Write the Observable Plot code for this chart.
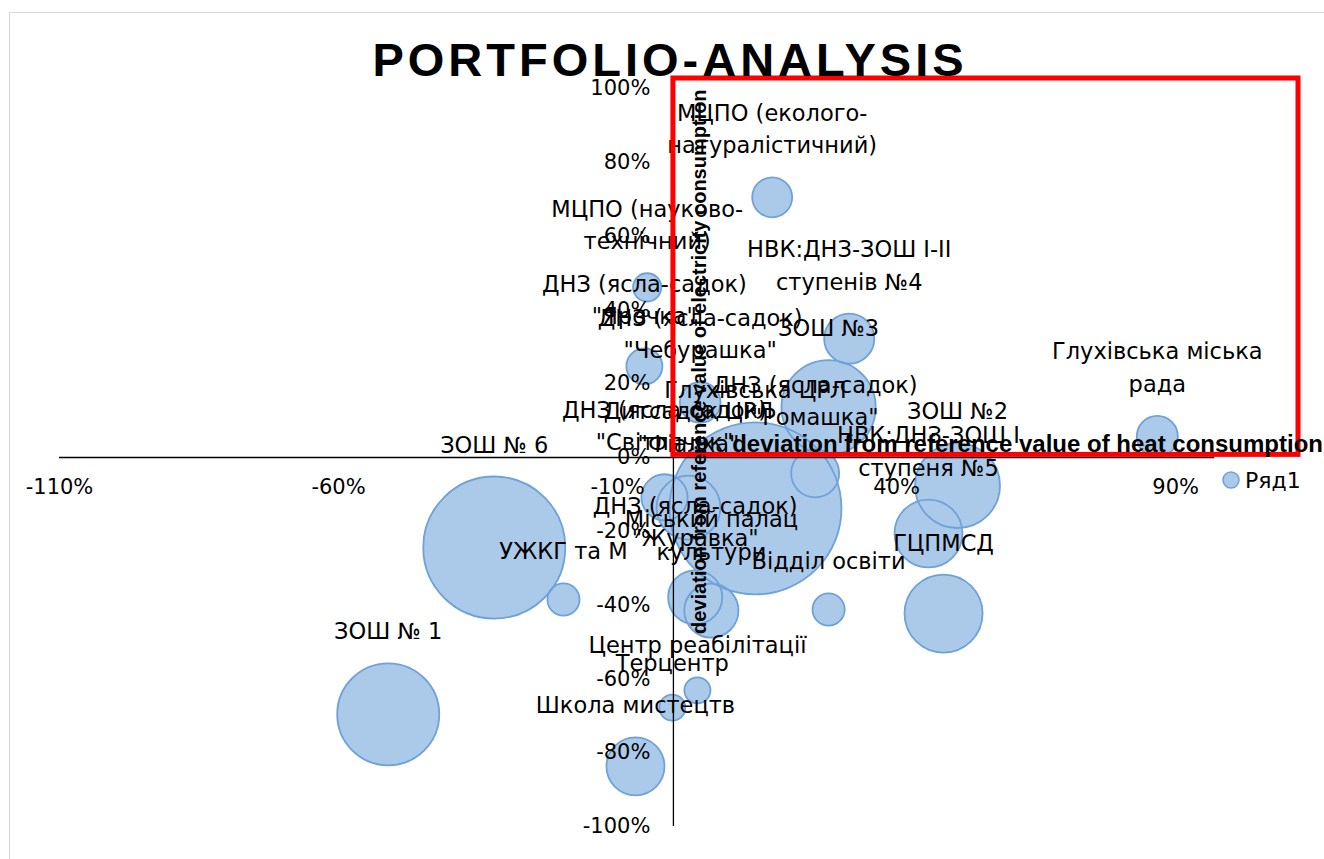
<!DOCTYPE html>
<html><head><meta charset="utf-8">
<script src="https://cdn.jsdelivr.net/npm/d3@7"></script>
<script src="https://cdn.jsdelivr.net/npm/@observablehq/plot@0.6"></script>
<style>
html,body{margin:0;padding:0;background:#fff;overflow:hidden;width:1324px;height:859px}
#wrap{position:relative;width:1324px;height:859px}
#border{position:absolute;left:9px;top:12px;width:1400px;height:900px;border:1.5px solid #d9d9d9;box-sizing:border-box}
#chart{position:absolute;left:0;top:0}
</style></head><body>
<div id="wrap"><div id="border"></div><div id="chart"></div></div>
<script>
// Chart content
const chartTitle = "PORTFOLIO-ANALYSIS";
const xTitle = "deviation from reference value of heat consumption";
const yTitle = "deviation from reference value of electricity consumption";
const seriesName = "Ряд1";

// Objects (labels)
const names = [
  "МЦПО (еколого-\nнатуралістичний)",
  "МЦПО (науково-\nтехнічний)",
  "ДНЗ (ясла-садок)\n\"Ярочка\"",
  "ДНЗ (ясла-садок)\n\"Чебурашка\"",
  "НВК:ДНЗ-ЗОШ I-II\nступенів №4",
  "ЗОШ №3",
  "Глухівська міська\nрада",
  "Глухівська ЦРЛ",
  "ДНЗ (ясла-садок)\n\"Ромашка\"",
  "ДНЗ (ясла-садок)\n\"Світлячок\"",
  "Дитсадок ЦРЛ\n\"Фіалка\"",
  "ЗОШ №2",
  "НВК:ДНЗ-ЗОШ I\nступеня №5",
  "ДНЗ (ясла-садок)\n\"Журавка\"",
  "Міський палац\nкультури",
  "УЖКГ та М",
  "Відділ освіти",
  "ГЦПМСД",
  "Центр реабілітації",
  "Терцентр",
  "Школа мистецтв",
  "ЗОШ № 1",
  "ЗОШ № 6"
];
// deviation from reference value of heat consumption, %
const heatDev = [17.7, -4.7, -5.2, 4.8, 31.5, 27.8, 86.7, 14.7, 25.4, -1.6, 2.7, 50.9, 45.7, 3.9, 6.8, -19.7, 27.8, 48.4, 4.3, -0.2, -6.8, -51.1, -32.1];
// deviation from reference value of electricity consumption, %
const elecDev = [70.5, 46.1, 24.7, 14.9, 32.2, 13.6, 5.7, -13.8, -4.3, -10.8, -13.6, -7.6, -20.6, -37.9, -41.5, -38.5, -41.2, -42.3, -63.1, -67.8, -83.7, -69.6, -24.4];
// bubble size (relative consumption)
const sizes = [5.4, 2.7, 4.4, 5.6, 8.5, 30, 5.7, 100, 7.8, 7.2, 13.8, 24.4, 15.6, 9.9, 9.9, 3.5, 3.5, 20.6, 2.3, 2.3, 11.4, 35.2, 68.2];

const yTicks = [-100, -80, -60, -40, -20, 0, 20, 40, 60, 80, 100];
const xTicks = [-110, -60, -10, 40, 90];

const data = names.map((name, i) => ({name, heat: heatDev[i], elec: elecDev[i], size: sizes[i]}));

const W = 1324, H = 859;
const sizeMax = 100, rMax = 86;
const rpx = d3.scaleSqrt().domain([0, sizeMax]).range([0, rMax]);
const fillC = "#abc9e9", strokeC = "#6fa2d8";
const labelFont = "DejaVu Sans";
const boldFont = "Liberation Sans, Arial, sans-serif";

const labelMarks = data.map(d => Plot.text([d], {
  x: "heat", y: "elec", text: "name",
  dy: -(rpx(d.size) + 24),
  lineAnchor: "bottom", lineHeight: 1.45,
  fontSize: 22.5, fontFamily: labelFont, fill: "#000"
}));

const chart = Plot.plot({
  width: W, height: H,
  marginLeft: 59, marginRight: 26, marginTop: 78, marginBottom: 33,
  x: {domain: [-110, 112], axis: null},
  y: {domain: [-100, 102.7], axis: null},
  r: {type: "sqrt", domain: [0, sizeMax], range: [0, rMax]},
  style: {background: "transparent", overflow: "visible"},
  marks: [
    Plot.dot(data, {x: "heat", y: "elec", r: "size", fill: fillC, stroke: "none"}),
    Plot.dot(data, {x: "heat", y: "elec", r: "size", fill: "none", stroke: strokeC, strokeWidth: 1.8}),
    Plot.ruleY([0], {x1: -110, x2: 97, stroke: "#000", strokeWidth: 1.3}),
    Plot.ruleX([0], {y1: -100, y2: 100, stroke: "#000", strokeWidth: 1.3}),
    Plot.text(yTicks, {x: () => 0, y: d => d, text: d => d + "%", textAnchor: "end", dx: -23,
      fontSize: 21, fontFamily: labelFont, fill: "#000"}),
    Plot.text(xTicks, {x: d => d, y: () => 0, text: d => d + "%", dy: 30,
      fontSize: 21, fontFamily: labelFont, fill: "#000"}),
    ...labelMarks,
    Plot.rect([0], {x1: 0, x2: 112, y1: 0.7, y2: 102.7, fill: "none", stroke: "#ff0000", strokeWidth: 5})
  ]
});

document.getElementById("chart").appendChild(chart);

const svg = d3.select(chart);
const sx = chart.scale("x");
// title
svg.append("text").attr("x", 670).attr("y", 76).attr("text-anchor", "middle")
  .attr("font-family", boldFont).attr("font-weight", "bold").attr("font-size", 47)
  .attr("letter-spacing", 4).attr("fill", "#000").text(chartTitle);
// x axis title
svg.append("text").attr("x", 1323).attr("y", 452).attr("text-anchor", "end")
  .attr("font-family", boldFont).attr("font-weight", "bold").attr("font-size", 24)
  .attr("fill", "#000").text(xTitle);
// y axis title
svg.append("text").attr("transform", `translate(${sx.apply(0) + 33},634) rotate(-90)`)
  .attr("text-anchor", "start")
  .attr("font-family", boldFont).attr("font-weight", "bold").attr("font-size", 20)
  .attr("fill", "#000").text(yTitle);
// legend
svg.append("circle").attr("cx", 1231).attr("cy", 480).attr("r", 8)
  .attr("fill", fillC).attr("stroke", strokeC).attr("stroke-width", 1.5);
svg.append("text").attr("x", 1245).attr("y", 488).attr("text-anchor", "start")
  .attr("font-family", labelFont).attr("font-size", 22).attr("fill", "#000").text(seriesName);
</script>
</body></html>
